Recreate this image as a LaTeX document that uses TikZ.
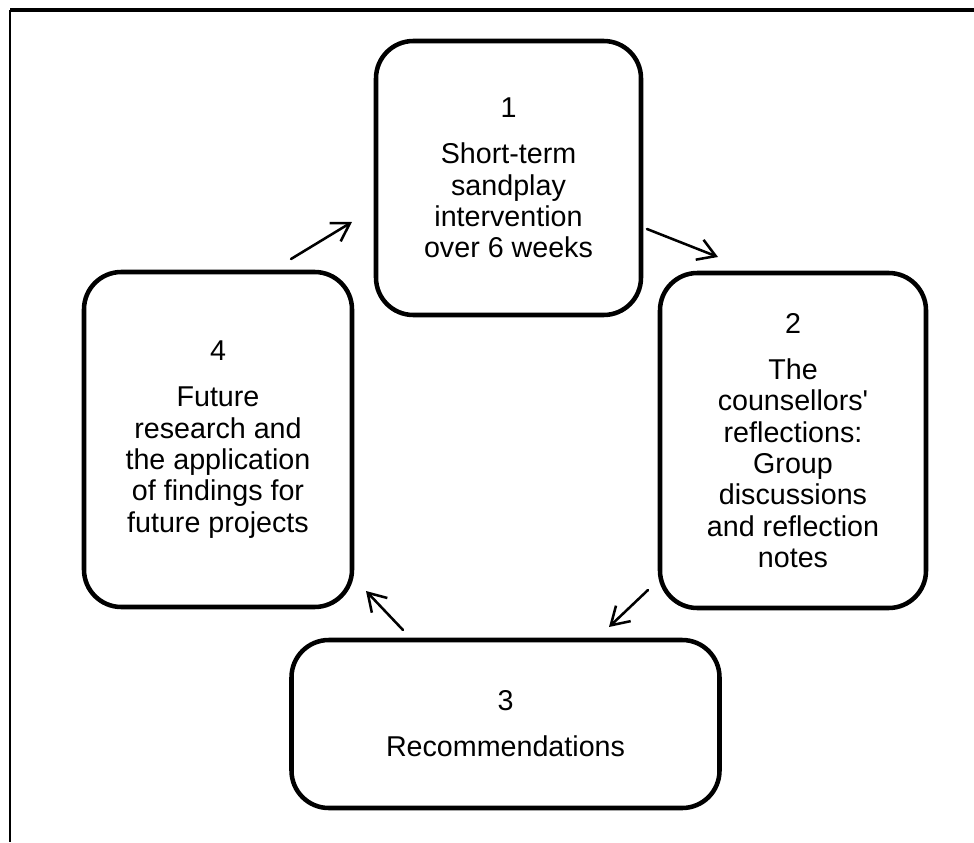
\documentclass[tikz,border=0pt]{standalone}
\usepackage{fontspec}
\setmainfont{Liberation Sans}[Ligatures=TeXOff]
\usetikzlibrary{arrows.meta}
\begin{document}
\begin{tikzpicture}[x=0.75pt,y=-0.75pt,
  stage/.style={draw=black, line width=3.4pt, rounded corners=28pt,
    align=center, inner sep=0pt, outer sep=0pt,
    font=\fontsize{21.5pt}{23.5pt}\selectfont},
  flow/.style={line width=1.9pt, line cap=round,
    -{Straight Barb[length=13pt,width=16pt,line width=1.9pt]}}]
  \useasboundingbox (0,0) rectangle (974,842);
  % page frame (top and left edges)
  \draw[line width=2.4pt] (10,10) -- (974,10);
  \draw[line width=1.6pt] (10,10) -- (10,842);

  % stages of the cycle
  \node[stage, minimum width=198.75pt, minimum height=205.5pt] (s1) at (508.5,178)
    {1\\[11pt]Short-term\\sandplay\\intervention\\over 6 weeks};
  \node[stage, minimum width=199.5pt, minimum height=251.25pt] (s2) at (793,440.5)
    {2\\[11pt]The\\counsellors'\\reflections:\\Group\\discussions\\and reflection\\notes};
  \node[stage, minimum width=321pt, minimum height=126pt] (s3) at (505.5,724)
    {3\\[11pt]Recommendations};
  \node[stage, minimum width=201pt, minimum height=251.25pt] (s4) at (218,439.5)
    {4\\[11pt]Future\\research and\\the application\\of findings for\\future projects};

  % arrow end points in the gaps between stages
  \coordinate (a1s) at (647,229);
  \coordinate (a1e) at (718,257);
  \coordinate (a2s) at (648,590);
  \coordinate (a2e) at (609,627);
  \coordinate (a3s) at (403,630);
  \coordinate (a3e) at (366,591);
  \coordinate (a4s) at (291,259);
  \coordinate (a4e) at (352,222);

  \draw[flow] (a1s) -- (a1e);
  \draw[flow] (a2s) -- (a2e);
  \draw[flow] (a3s) -- (a3e);
  \draw[flow] (a4s) -- (a4e);
\end{tikzpicture}
\end{document}
